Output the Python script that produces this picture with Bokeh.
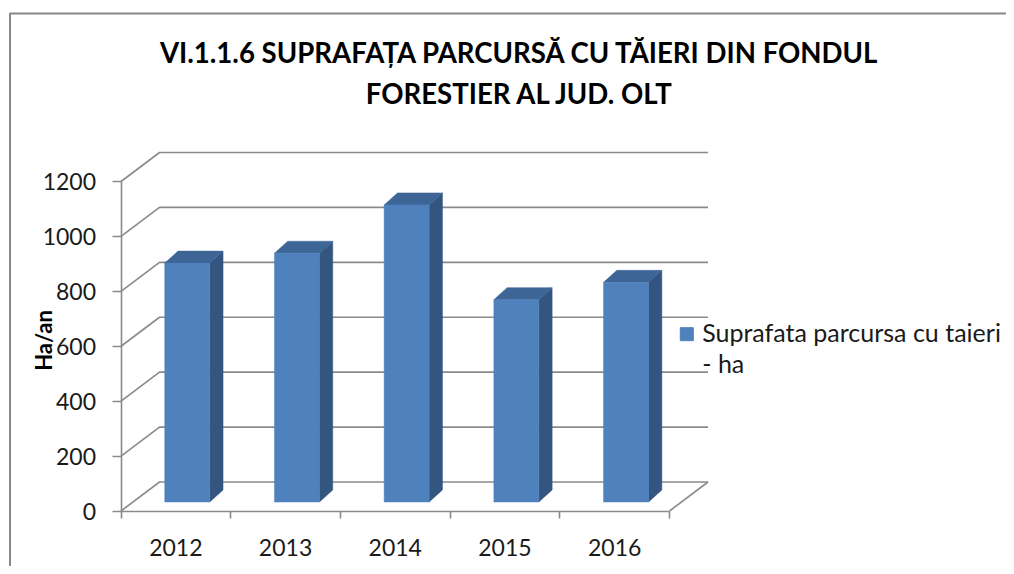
import math
from bokeh.plotting import figure
from bokeh.models import Range1d, FixedTicker, Label, LinearAxis, ColumnDataSource
from bokeh.core.properties import value
from bokeh.embed import file_html
from bokeh.resources import INLINE

# ---------------- data ----------------
title_lines = ["VI.1.1.6 SUPRAFAȚA PARCURSĂ CU TĂIERI DIN FONDUL", "FORESTIER AL JUD. OLT"]
years = ["2012", "2013", "2014", "2015", "2016"]
values = [870, 906, 1082, 737, 800]
y_ticks = [0, 200, 400, 600, 800, 1000, 1200]
y_label = "Ha/an"
legend_lines = ["Suprafata parcursa cu taieri", "- ha"]

# ---------------- geometry ----------------
FONT = "Lato"
W, H = 1006, 566
PX_X = 109.7              # pixels per category on the front plane
PX_Y = 329.5 / 1200.0     # pixels per value unit
OX, OY = 120.5, 510.5     # canvas position of the data origin (front plane)

def dx(px):
    return px / PX_X

def dy(px):
    return px / PX_Y

def X(cx):
    return (cx - OX) / PX_X

def Y(cy):
    return (OY - cy) / PX_Y

n = len(years)
WDX, WDY = dx(38.5), dy(29)        # depth of the back wall
F1X, F1Y = dx(11.4), dy(9)         # depth of the bars' front face
BDX, BDY = dx(13.3), dy(12)        # depth of a bar
HALF = 0.205                       # half width of a bar (in categories)

GRID = "#8a8a8a"
TXT = "#1a1a1a"

p = figure(width=W, height=H, output_backend="svg", toolbar_location=None,
           x_range=Range1d(X(0), X(W)), y_range=Range1d(Y(H), Y(0)),
           x_axis_location=None, y_axis_location=None,
           min_border_left=0, min_border_bottom=0, min_border_top=0, min_border_right=0)
p.title = None
p.outline_line_color = None
p.background_fill_color = "white"
p.border_fill_color = "white"
p.grid.visible = False

# chart area border
p.line(x=[X(9.5), X(9.5), X(1100)], y=[Y(700), Y(13), Y(13)],
       line_color="#878787", line_width=2)

# back wall gridlines + left wall diagonals + floor
gx = [[0, WDX, n + WDX] for t in y_ticks] + [[n, n + WDX]]
gy = [[t, t + WDY, t + WDY] for t in y_ticks] + [[0, WDY]]
p.multi_line(xs=gx, ys=gy, line_color=GRID, line_width=1.6)

# bars
fx0, fx1, fb, ft = [], [], [], []
side_x, side_y, top_x, top_y = [], [], [], []
for i, v in enumerate(values):
    cx = i + 0.5 + F1X
    x0, x1 = cx - HALF, cx + HALF
    y0, y1 = F1Y, v + F1Y
    fx0.append(x0); fx1.append(x1); fb.append(y0); ft.append(y1)
    side_x.append([x1, x1 + BDX, x1 + BDX, x1])
    side_y.append([y0, y0 + BDY, y1 + BDY, y1])
    top_x.append([x0, x1, x1 + BDX, x0 + BDX])
    top_y.append([y1, y1, y1 + BDY, y1 + BDY])

p.patches(xs=side_x, ys=side_y, fill_color="#34557f", line_color="#34557f", line_width=0.5)
p.patches(xs=top_x, ys=top_y, fill_color="#3d6596", line_color="#3d6596", line_width=0.5)
src = ColumnDataSource(dict(left=fx0, right=fx1, bottom=fb, top=ft, year=years, val=values))
p.quad(left="left", right="right", bottom="bottom", top="top", source=src,
       fill_color="#4f81bd", line_color="#4f81bd", line_width=0.5)

# axes (fixed on the front plane)
xa = LinearAxis(fixed_location=0)
xa.ticker = FixedTicker(ticks=[i + 0.5 for i in range(n)], minor_ticks=list(range(n + 1)))
xa.major_label_overrides = {i + 0.5: years[i] for i in range(n)}
xa.bounds = (0, n)
xa.axis_line_color = GRID
xa.axis_line_width = 1.6
xa.major_tick_out = 0
xa.major_tick_in = 0
xa.minor_tick_out = 7
xa.minor_tick_in = 0
xa.minor_tick_line_color = GRID
xa.minor_tick_line_width = 1.6
xa.major_label_standoff = 21
xa.major_label_text_font = FONT
xa.major_label_text_font_size = "23px"
xa.major_label_text_color = TXT
p.add_layout(xa, "below")

ya = LinearAxis(fixed_location=0)
ya.ticker = FixedTicker(ticks=y_ticks, minor_ticks=[])
ya.bounds = (0, y_ticks[-1])
ya.axis_line_color = GRID
ya.axis_line_width = 1.6
ya.major_tick_out = 9
ya.major_tick_in = 0
ya.major_tick_line_color = GRID
ya.major_tick_line_width = 1.6
ya.minor_tick_out = 0
ya.minor_tick_in = 0
ya.major_label_standoff = 16
ya.major_label_text_font = FONT
ya.major_label_text_font_size = "23px"
ya.major_label_text_color = TXT
p.add_layout(ya, "left")

# y axis title
p.add_layout(Label(x=X(43), y=Y(340), text=y_label, angle=math.pi / 2,
                   text_align="center", text_baseline="alphabetic",
                   text_font=FONT, text_font_size="22px", text_font_style="bold",
                   text_color="#000000"))

# chart title
for line, base in zip(title_lines, [52, 93]):
    p.add_layout(Label(x=X(519.5), y=Y(base), text=line, text_align="center",
                       text_baseline="alphabetic", text_font=FONT, text_font_size="27.6px",
                       text_font_style="bold", text_color="#000000"))

# legend
p.scatter(x=[X(686.3)], y=[Y(333.7)], marker="square", size=13,
          fill_color="#4f81bd", line_color="#4f81bd")
p.text(x=[X(701.7), X(701.7)], y=[Y(331.7), Y(362.7)], text=legend_lines,
       text_baseline="alphabetic", text_align="left", text_font=value(FONT),
       text_font_size="25px", text_color=TXT)

open("out.html", "w").write(file_html(p, INLINE))
